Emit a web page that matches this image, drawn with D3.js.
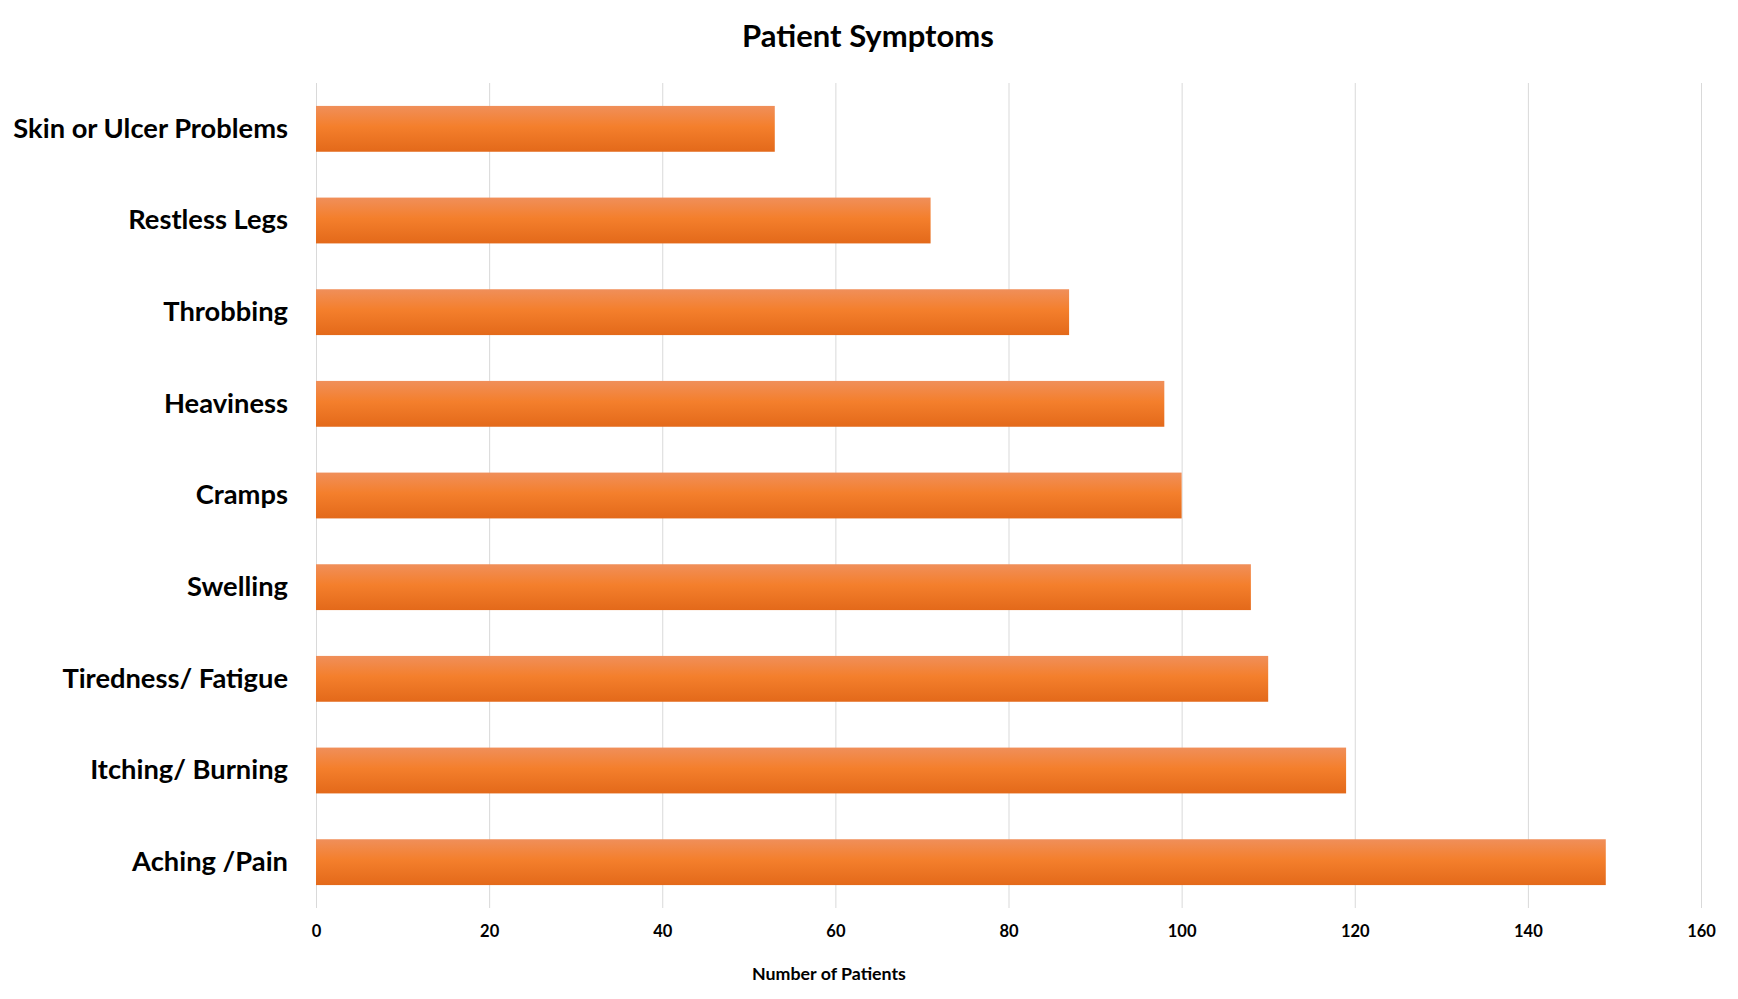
<!DOCTYPE html>
<html><head><meta charset="utf-8">
<script src="https://cdn.jsdelivr.net/npm/d3@7"></script>
<style>body{margin:0;background:#fff}svg{display:block}text{font-family:Lato,"Open Sans",sans-serif;font-weight:bold;fill:#000}</style>
</head><body>
<script>
const categories = ["Skin or Ulcer Problems","Restless Legs","Throbbing","Heaviness","Cramps","Swelling","Tiredness/ Fatigue","Itching/ Burning","Aching /Pain"];
const values = [53,71,87,98,100,108,110,119,149];
const xTicks = [0,20,40,60,80,100,120,140,160];
const title = "Patient Symptoms";
const xTitle = "Number of Patients";

const W=1738,H=999;
const m={left:316,right:W-1701,top:83,bottom:H-908};
const svg=d3.select("body").append("svg").attr("width",W).attr("height",H);
const defs=svg.append("defs");
const g=defs.append("linearGradient").attr("id","bg").attr("x1",0).attr("y1",0).attr("x2",0).attr("y2",1);
g.append("stop").attr("offset","0%").attr("stop-color","#f08f5a");
g.append("stop").attr("offset","45%").attr("stop-color","#f47f2c");
g.append("stop").attr("offset","100%").attr("stop-color","#e3691a");

const x=d3.scaleLinear().domain([0,160]).range([m.left,W-m.right]);
const y=d3.scaleBand().domain(categories).range([m.top,H-m.bottom]).paddingInner(0.5).paddingOuter(0.25);

const grid=svg.append("g").attr("transform",`translate(0,${H-m.bottom})`)
  .call(d3.axisBottom(x).tickValues(xTicks).tickSize(-(H-m.top-m.bottom)).tickFormat(d=>d).tickPadding(17));
grid.select(".domain").remove();
grid.selectAll("line").attr("stroke","#d9d9d9").attr("stroke-width",1);
grid.selectAll("text").attr("font-size",16.5).style("font-family","Lato,sans-serif").style("font-weight","bold");

svg.append("g").selectAll("rect").data(values).join("rect")
  .attr("x",x(0)).attr("y",(d,i)=>y(categories[i]))
  .attr("width",d=>x(d)-x(0)).attr("height",y.bandwidth()).attr("fill","url(#bg)");

const yax=svg.append("g").attr("transform",`translate(${m.left},0)`)
  .call(d3.axisLeft(y).tickSize(0).tickPadding(28));
yax.select(".domain").remove();
yax.selectAll("text").attr("font-size",27.3).style("font-family","Lato,sans-serif").style("font-weight","bold");

svg.append("text").attr("x",868).attr("y",47).attr("text-anchor","middle").attr("font-size",31).text(title);
svg.append("text").attr("x",829).attr("y",980).attr("text-anchor","middle").attr("font-size",17.8).text(xTitle);
</script>
</body></html>
